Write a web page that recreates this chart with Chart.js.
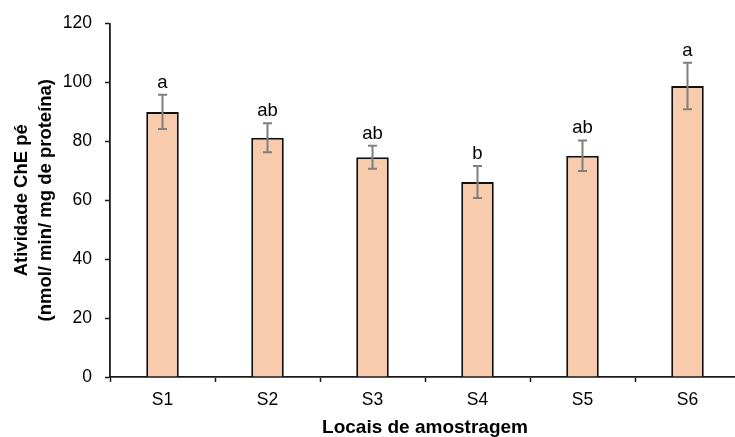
<!DOCTYPE html>
<html>
<head>
<meta charset="utf-8">
<script src="https://cdn.jsdelivr.net/npm/chart.js@4/dist/chart.umd.min.js"></script>
<style>
  html, body { margin: 0; padding: 0; background: #fff; overflow: hidden; width: 735px; height: 437px; }
  #wrap { width: 740px; height: 437px; }
</style>
</head>
<body>
<div id="wrap"><canvas id="c" width="740" height="437"></canvas></div>
<script>
const categories = ['S1', 'S2', 'S3', 'S4', 'S5', 'S6'];
const means = [90.0, 81.2, 74.6, 66.2, 75.1, 98.8];
const errors = [5.8, 4.9, 3.9, 5.4, 5.2, 7.9];
const letters = ['a', 'ab', 'ab', 'b', 'ab', 'a'];
const yTicks = [0, 20, 40, 60, 80, 100, 120];
const xTitle = 'Locais de amostragem';
const yTitle = ['Atividade ChE pé', '(nmol/ min/ mg de proteína)'];

const FONT = "'Liberation Sans', Arial, sans-serif";

const errorBarPlugin = {
  id: 'errorBars',
  afterDatasetsDraw(chart) {
    const ctx = chart.ctx;
    const x = chart.scales.x, y = chart.scales.y;
    ctx.save();
    categories.forEach((c, i) => {
      const px = x.getPixelForValue(i);
      const top = y.getPixelForValue(means[i] + errors[i]);
      const bot = y.getPixelForValue(means[i] - errors[i]);
      ctx.strokeStyle = '#7f7f7f';
      ctx.lineWidth = 2;
      ctx.beginPath();
      ctx.moveTo(px, top); ctx.lineTo(px, bot);
      ctx.moveTo(px - 4.5, top); ctx.lineTo(px + 4.5, top);
      ctx.moveTo(px - 4.5, bot); ctx.lineTo(px + 4.5, bot);
      ctx.stroke();
      ctx.fillStyle = '#000';
      ctx.font = '18.5px ' + FONT;
      ctx.textAlign = 'center';
      ctx.textBaseline = 'alphabetic';
      ctx.fillText(letters[i], px, top - 7);
    });
    ctx.restore();
  }
};

new Chart(document.getElementById('c'), {
  type: 'bar',
  data: {
    labels: categories,
    datasets: [{
      data: means,
      backgroundColor: '#F8CBAD',
      borderColor: '#111',
      borderWidth: 2,
      barPercentage: 0.31,
      categoryPercentage: 1.0
    }]
  },
  options: {
    responsive: false,
    animation: false,
    layout: { padding: { top: 20, right: 0, left: 0, bottom: 0 } },
    plugins: { legend: { display: false }, tooltip: { enabled: false } },
    scales: {
      x: {
        offset: true,
        grid: { display: true, drawOnChartArea: false, drawTicks: true, tickLength: 5, tickColor: '#1a1a1a', tickWidth: 1.5, offset: true },
        border: { display: true, color: '#1a1a1a', width: 1.8 },
        ticks: { color: '#000', font: { family: FONT, size: 17.5 }, padding: 8, maxRotation: 0 },
        title: { display: true, text: xTitle, color: '#000', font: { family: FONT, size: 19, weight: 'bold', lineHeight: 1 }, padding: { top: 0, bottom: 0 } },
        afterFit(scale) { scale.height = 60; }
      },
      y: {
        min: 0, max: 120,
        afterBuildTicks(scale) { scale.ticks = yTicks.map(v => ({ value: v })); },
        grid: { display: true, drawOnChartArea: false, drawTicks: true, tickLength: 5, tickColor: '#1a1a1a', tickWidth: 1.5 },
        border: { display: true, color: '#1a1a1a', width: 1.8 },
        ticks: { color: '#000', font: { family: FONT, size: 17.5 }, padding: 13 },
        title: { display: true, text: yTitle, color: '#000', font: { family: FONT, size: 18.5, weight: 'bold', lineHeight: 1.3 }, padding: { top: 10, bottom: 0 } },
        afterFit(scale) { scale.width = 110; }
      }
    }
  },
  plugins: [errorBarPlugin]
});
</script>
</body>
</html>
